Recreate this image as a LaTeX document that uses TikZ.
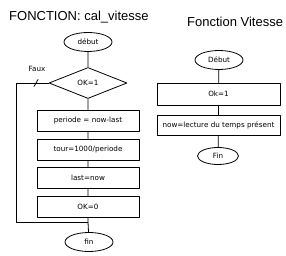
\documentclass[tikz,border=0pt]{standalone}
\usepackage{fontspec}
\setmainfont{DejaVu Sans}
\newfontfamily\titrefont{Liberation Sans}
\usepackage{tikz}
\usetikzlibrary{shapes.geometric}

\tikzset{
  bloc/.style={draw, line width=.8pt, minimum width=102pt, minimum height=21pt, inner sep=0pt, font=\fontsize{7.2}{8}\selectfont},
  borne/.style={draw, ellipse, line width=.8pt, minimum width=48pt, minimum height=19pt, inner sep=0pt, font=\fontsize{7.2}{8}\selectfont},
  test/.style={draw, diamond, line width=.8pt, minimum width=78pt, minimum height=31pt, inner sep=0pt, font=\fontsize{7.2}{8}\selectfont},
  titre/.style={anchor=base west, inner sep=0pt, font=\titrefont\fontsize{13}{15}\selectfont},
  lien/.style={line width=.8pt}
}

\begin{document}
\begin{tikzpicture}[x=1pt, y=-1pt, line cap=round, line join=round]
\useasboundingbox (0,0) rectangle (286,256);

% Titres
\node[titre] (t1) at (9,21) {FONCTION: cal\_vitesse};
\node[titre] (t2) at (187,27) {Fonction Vitesse};

% cal_vitesse
\node[borne] (deb1) at (88,42) {début};
\node[test] (ok1) at (88,83) {OK=1};
\node[bloc] (per) at (88,121) {periode = now-last};
\node[bloc] (tour) at (88,149.5) {tour=1000/periode};
\node[bloc] (last) at (88,178) {last=now};
\node[bloc] (ok0) at (88,207) {OK=0};
\node[borne] (fin1) at (89,242) {fin};
\coordinate (jonc) at (88,222);

\draw[lien] (deb1) -- (ok1) -- (per) -- (tour) -- (last) -- (ok0) -- (jonc) -- (fin1);
% branche Faux
\draw[lien] (ok1.west) -- (16,83) -- (16,222) -- (jonc);
\draw[lien] (34,86.5) -- (38,79.5);
\node[font=\fontsize{7.2}{8}\selectfont] (faux) at (37,69) {Faux};

% Fonction Vitesse
\node[borne] (deb2) at (219,60) {Début};
\node[bloc, minimum width=123pt, minimum height=22pt] (okb) at (218.5,94) {Ok=1};
\node[bloc, minimum width=123pt, minimum height=20pt] (now) at (218.5,125) {now=lecture du temps présent};
\node[borne, minimum width=41pt, minimum height=17pt] (fin2) at (218,156) {Fin};

\draw[lien] (deb2) -- (okb) -- (now) -- (fin2);

\end{tikzpicture}
\end{document}
